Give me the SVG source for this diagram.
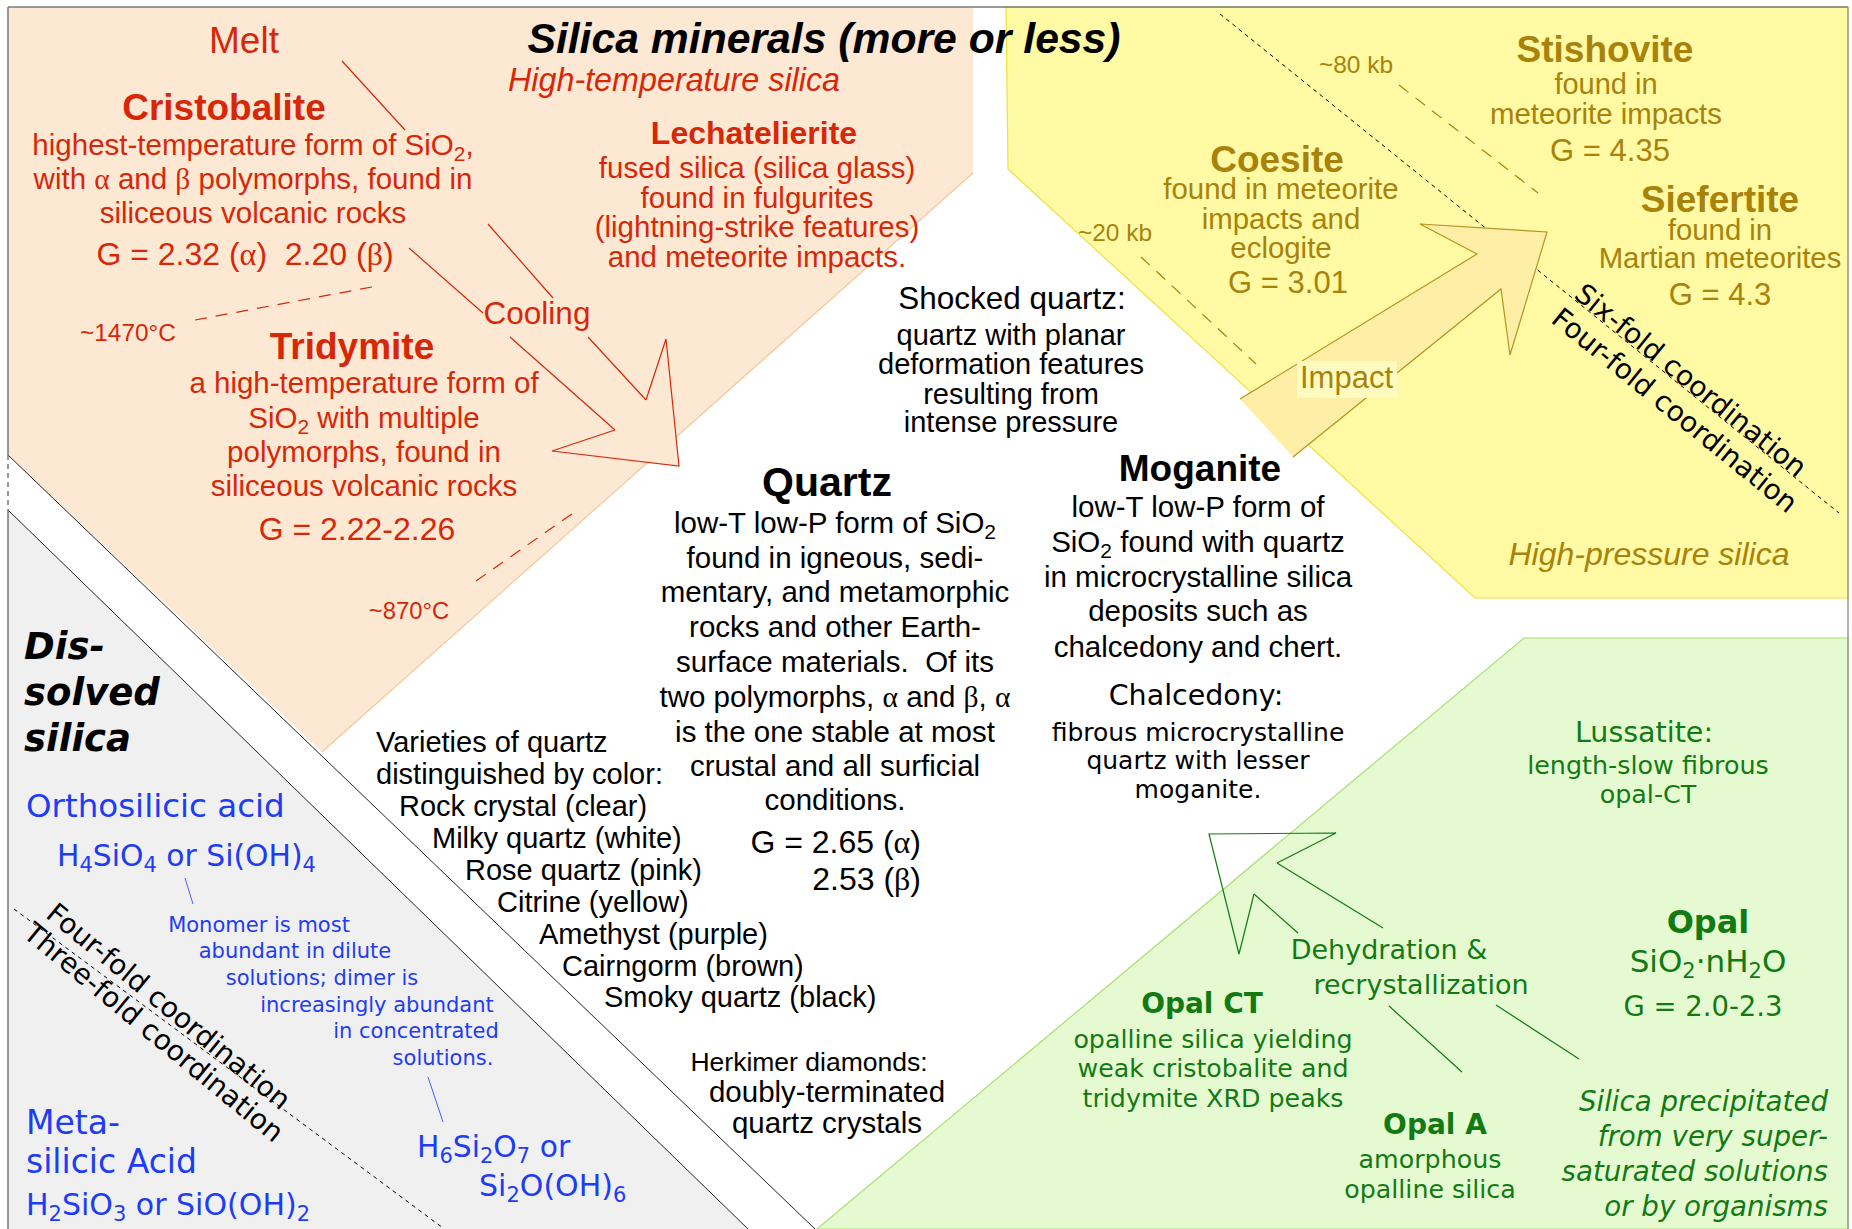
<svg xmlns="http://www.w3.org/2000/svg" width="1852" height="1229" viewBox="0 0 1852 1229">
<style>
text{font-family:"Liberation Sans",Arial,Helvetica,sans-serif}
.l{font-family:"DejaVu Sans","Liberation Sans",sans-serif}
.m{text-anchor:middle}
.e{text-anchor:end}
.bd{font-weight:bold}
.it{font-style:italic}
.sy{font-family:"Liberation Serif","Times New Roman",serif}
.red{fill:#D62808}
.gold{fill:#A8820A}
.blk{fill:#000}
.blu{fill:#1E3CF5}
.grn{fill:#127A12}
.rl{stroke:#D62808;stroke-width:1.2;fill:none}
.gl{stroke:#A8820A;stroke-width:1.2;fill:none}
.nl{stroke:#127A12;stroke-width:1.2;fill:none}
.bl{stroke:#1E3CF5;stroke-width:0.8;fill:none}
</style>
<rect x="0" y="0" width="1852" height="1229" fill="#fff"/>
<g id="regions">
<polygon points="8,7 973,7 973,173 322,752 8,455" fill="#FDE8D4"/>
<line x1="973" y1="173" x2="322" y2="752" stroke="#F7C79A" stroke-width="1.2"/>
<polygon points="1006,7 1008,169 1475,598 1848,598 1848,7" fill="#FFFAA3" stroke="#EEE23A" stroke-width="1.2"/>
<polygon points="817,1229 1524,638 1848,638 1848,1229" fill="#E6FAD2" stroke="#A8E070" stroke-width="1.2"/>
<polygon points="8,510 748,1229 8,1229" fill="#F0F0F0"/>
<line x1="8" y1="455" x2="815" y2="1229" stroke="#222" stroke-width="1"/>
<line x1="8" y1="510" x2="748" y2="1229" stroke="#222" stroke-width="1"/>
<line x1="8" y1="7" x2="1848" y2="7" stroke="#777" stroke-width="1.5"/>
<line x1="8" y1="7" x2="8" y2="455" stroke="#777" stroke-width="1.5"/>
<line x1="8" y1="455" x2="8" y2="510" stroke="#777" stroke-width="1.5" stroke-dasharray="5,4"/>
<line x1="8" y1="510" x2="8" y2="1229" stroke="#777" stroke-width="1.5"/>
<line x1="1848" y1="7" x2="1848" y2="1229" stroke="#999" stroke-width="1.5"/>
</g>
<g id="connectors">
<line class="rl" x1="342" y1="61" x2="405" y2="130"/>
<line class="rl" x1="488" y1="224" x2="553" y2="298"/>
<line class="rl" x1="588" y1="337" x2="646" y2="400"/>
<line class="rl" x1="409" y1="248" x2="483" y2="313"/>
<line class="rl" x1="510" y1="337" x2="615" y2="430"/>
<polygon points="615,430 552,451 679,466 666,339 646,400" fill="#FDE8D4" stroke="none"/>
<polyline class="rl" points="615,430 552,451 679,466 666,339 646,400"/>
<line class="rl" x1="195" y1="320" x2="372" y2="287" stroke-dasharray="12,9"/>
<line class="rl" x1="476" y1="581" x2="576" y2="511" stroke-dasharray="12,9"/>
<line class="gl" x1="1399" y1="85" x2="1538" y2="193" stroke-dasharray="12,9"/>
<line class="gl" x1="1141" y1="257" x2="1256" y2="364" stroke-dasharray="12,9"/>
<line x1="1220" y1="14" x2="1839" y2="513" stroke="#000" stroke-width="1" stroke-dasharray="4,4"/>
<line x1="14" y1="909" x2="443" y2="1228" stroke="#000" stroke-width="1" stroke-dasharray="4,4"/>
<polygon points="1240,399 1477,254 1420,224 1547,232 1510,355 1501,289 1293,457" fill="#FFEFA6" stroke="none"/>
<polyline points="1240,399 1477,254 1420,224 1547,232 1510,355 1501,289 1293,457" fill="none" stroke="#B8921E" stroke-width="1.2"/>
<rect x="1297" y="361" width="100" height="37" fill="#FFFBC0"/>
<polyline class="nl" points="1277,863 1336,833 1209,834 1239,954 1254,894"/>
<line class="nl" x1="1277" y1="863" x2="1383" y2="928"/>
<line class="nl" x1="1254" y1="894" x2="1298" y2="933"/>
<line class="nl" x1="1389" y1="1006" x2="1462" y2="1072"/>
<line class="nl" x1="1496" y1="1005" x2="1579" y2="1059"/>
<line class="bl" x1="185" y1="878" x2="193" y2="904"/>
<line class="bl" x1="428" y1="1077" x2="443" y2="1122"/>
</g>
<g id="title"><text class="blk m bd it" x="824" y="53" font-size="42.7">Silica minerals (more or less)</text></g>
<g id="high-temp-label"><text class="red m it" x="674" y="91" font-size="32.3">High-temperature silica</text></g>
<g id="melt"><text class="red m" x="244" y="53" font-size="37">Melt</text></g>
<g id="cristobalite">
<text class="red m bd" x="224" y="120" font-size="37">Cristobalite</text>
<text class="red m" x="253" y="155" font-size="29.5">highest-temperature form of SiO<tspan dy="6" font-size="21">2</tspan><tspan dy="-6">,</tspan></text>
<text class="red m" x="253" y="189" font-size="29.5">with <tspan class="sy">α</tspan> and <tspan class="sy">β</tspan> polymorphs, found in</text>
<text class="red m" x="253" y="223" font-size="29.5">siliceous volcanic rocks</text>
<text class="red m" x="245" y="265" font-size="32">G = 2.32 (<tspan class="sy">α</tspan>)&#160; 2.20 (<tspan class="sy">β</tspan>)</text>
</g>
<g id="t1470"><text class="red m" x="128" y="341" font-size="24.4">~1470°C</text></g>
<g id="tridymite">
<text class="red m bd" x="352" y="359" font-size="37">Tridymite</text>
<text class="red m" x="364" y="393" font-size="29.5">a high-temperature form of</text>
<text class="red m" x="364" y="428" font-size="29.5">SiO<tspan dy="6" font-size="21">2</tspan><tspan dy="-6"> with multiple</tspan></text>
<text class="red m" x="364" y="462" font-size="29.5">polymorphs, found in</text>
<text class="red m" x="364" y="496" font-size="29.5">siliceous volcanic rocks</text>
<text class="red m" x="357" y="540" font-size="32">G = 2.22-2.26</text>
</g>
<g id="t870"><text class="red m" x="409" y="619" font-size="23.8">~870°C</text></g>
<g id="cooling"><text class="red m" x="537" y="324" font-size="31.5">Cooling</text></g>
<g id="lechatelierite">
<text class="red m bd" x="754" y="144" font-size="32">Lechatelierite</text>
<text class="red m" x="757" y="178" font-size="29.5">fused silica (silica glass)</text>
<text class="red m" x="757" y="208" font-size="29.5">found in fulgurites</text>
<text class="red m" x="757" y="237" font-size="29.5">(lightning-strike features)</text>
<text class="red m" x="757" y="267" font-size="29.5">and meteorite impacts.</text>
</g>
<g id="stishovite">
<text class="gold m bd" x="1605" y="62" font-size="37">Stishovite</text>
<text class="gold m" x="1606" y="94" font-size="29">found in</text>
<text class="gold m" x="1606" y="124" font-size="29.4">meteorite impacts</text>
<text class="gold m" x="1610" y="161" font-size="31">G = 4.35</text>
</g>
<g id="coesite">
<text class="gold m bd" x="1277" y="172" font-size="37">Coesite</text>
<text class="gold m" x="1281" y="199" font-size="29.4">found in meteorite</text>
<text class="gold m" x="1281" y="229" font-size="29.4">impacts and</text>
<text class="gold m" x="1281" y="258" font-size="29.4">eclogite</text>
<text class="gold m" x="1288" y="293" font-size="31">G = 3.01</text>
</g>
<g id="siefertite">
<text class="gold m bd" x="1720" y="212" font-size="37">Siefertite</text>
<text class="gold m" x="1720" y="240" font-size="29.3">found in</text>
<text class="gold m" x="1720" y="268" font-size="29.3">Martian meteorites</text>
<text class="gold m" x="1720" y="305" font-size="31">G = 4.3</text>
</g>
<g id="kb80"><text class="gold m" x="1356" y="73" font-size="24.5">~80 kb</text></g>
<g id="kb20"><text class="gold m" x="1115" y="241" font-size="24.5">~20 kb</text></g>
<g id="impact"><text class="gold" x="1300" y="388" font-size="31">Impact</text></g>
<g id="coord-high">
<text class="l blk m" transform="translate(1691,380) rotate(39)" y="10" font-size="28">Six-fold coordination</text>
<text class="l blk m" transform="translate(1675,410) rotate(39)" y="10" font-size="28">Four-fold coordination</text>
</g>
<g id="high-pressure-label"><text class="gold m it" x="1649" y="565" font-size="32">High-pressure silica</text></g>
<g id="shocked">
<text class="blk m" x="1012" y="309" font-size="31.5">Shocked quartz:</text>
<text class="blk m" x="1011" y="345" font-size="29">quartz with planar</text>
<text class="blk m" x="1011" y="374" font-size="29">deformation features</text>
<text class="blk m" x="1011" y="404" font-size="29">resulting from</text>
<text class="blk m" x="1011" y="432" font-size="29">intense pressure</text>
</g>
<g id="quartz">
<text class="blk m bd" x="827" y="496" font-size="41">Quartz</text>
<text class="blk m" x="835" y="533" font-size="29.5">low-T low-P form of SiO<tspan dy="6" font-size="21">2</tspan></text>
<text class="blk m" x="835" y="568" font-size="29.5">found in igneous, sedi-</text>
<text class="blk m" x="835" y="602" font-size="29.5">mentary, and metamorphic</text>
<text class="blk m" x="835" y="637" font-size="29.5">rocks and other Earth-</text>
<text class="blk m" x="835" y="672" font-size="29.5">surface materials.&#160; Of its</text>
<text class="blk m" x="835" y="707" font-size="29.5">two polymorphs, <tspan class="sy">α</tspan> and <tspan class="sy">β</tspan>, <tspan class="sy">α</tspan></text>
<text class="blk m" x="835" y="742" font-size="29.5">is the one stable at most</text>
<text class="blk m" x="835" y="776" font-size="29.5">crustal and all surficial</text>
<text class="blk m" x="835" y="810" font-size="29.5">conditions.</text>
<text class="blk e" x="921" y="853" font-size="32">G = 2.65 (<tspan class="sy">α</tspan>)</text>
<text class="blk e" x="921" y="890" font-size="32">2.53 (<tspan class="sy">β</tspan>)</text>
</g>
<g id="moganite">
<text class="blk m bd" x="1200" y="481" font-size="37">Moganite</text>
<text class="blk m" x="1198" y="517" font-size="29.5">low-T low-P form of</text>
<text class="blk m" x="1198" y="552" font-size="29.5">SiO<tspan dy="6" font-size="21">2</tspan><tspan dy="-6"> found with quartz</tspan></text>
<text class="blk m" x="1198" y="587" font-size="29.5">in microcrystalline silica</text>
<text class="blk m" x="1198" y="621" font-size="29.5">deposits such as</text>
<text class="blk m" x="1198" y="657" font-size="29.5">chalcedony and chert.</text>
</g>
<g id="chalcedony">
<text class="l blk m" x="1196" y="705" font-size="28.5">Chalcedony:</text>
<text class="l blk m" x="1198" y="741" font-size="25">fibrous microcrystalline</text>
<text class="l blk m" x="1198" y="769" font-size="25">quartz with lesser</text>
<text class="l blk m" x="1198" y="798" font-size="25">moganite.</text>
</g>
<g id="varieties">
<text class="blk" x="376" y="752" font-size="29">Varieties of quartz</text>
<text class="blk" x="376" y="784" font-size="29">distinguished by color:</text>
<text class="blk" x="399" y="816" font-size="29">Rock crystal (clear)</text>
<text class="blk" x="432" y="848" font-size="29">Milky quartz (white)</text>
<text class="blk" x="465" y="880" font-size="29">Rose quartz (pink)</text>
<text class="blk" x="497" y="912" font-size="29">Citrine (yellow)</text>
<text class="blk" x="539" y="944" font-size="29">Amethyst (purple)</text>
<text class="blk" x="562" y="976" font-size="29">Cairngorm (brown)</text>
<text class="blk" x="604" y="1007" font-size="29">Smoky quartz (black)</text>
</g>
<g id="herkimer">
<text class="blk m" x="809" y="1071" font-size="26.5">Herkimer diamonds:</text>
<text class="blk m" x="827" y="1102" font-size="29.5">doubly-terminated</text>
<text class="blk m" x="827" y="1133" font-size="29.5">quartz crystals</text>
</g>
<g id="dissolved">
<text class="l blk bd it" x="24" y="659" font-size="37">Dis-</text>
<text class="l blk bd it" x="24" y="705" font-size="37">solved</text>
<text class="l blk bd it" x="24" y="751" font-size="37">silica</text>
</g>
<g id="orthosilicic">
<text class="l blu" x="26" y="817" font-size="32.5">Orthosilicic acid</text>
<text class="l blu" x="57" y="866" font-size="29.8">H<tspan dy="6" font-size="21">4</tspan><tspan dy="-6">SiO</tspan><tspan dy="6" font-size="21">4</tspan><tspan dy="-6"> or Si(OH)</tspan><tspan dy="6" font-size="21">4</tspan></text>
</g>
<g id="monomer-note">
<text class="l blu m" x="259" y="932" font-size="21">Monomer is most</text>
<text class="l blu m" x="295" y="958" font-size="21">abundant in dilute</text>
<text class="l blu m" x="322" y="985" font-size="21">solutions; dimer is</text>
<text class="l blu m" x="377" y="1012" font-size="21">increasingly abundant</text>
<text class="l blu m" x="416" y="1038" font-size="21">in concentrated</text>
<text class="l blu m" x="443" y="1065" font-size="21">solutions.</text>
</g>
<g id="dimer">
<text class="l blu" x="417" y="1157" font-size="29.8">H<tspan dy="6" font-size="21">6</tspan><tspan dy="-6">Si</tspan><tspan dy="6" font-size="21">2</tspan><tspan dy="-6">O</tspan><tspan dy="6" font-size="21">7</tspan><tspan dy="-6"> or</tspan></text>
<text class="l blu" x="479" y="1196" font-size="30">Si<tspan dy="6" font-size="21">2</tspan><tspan dy="-6">O(OH)</tspan><tspan dy="6" font-size="21">6</tspan></text>
</g>
<g id="metasilicic">
<text class="l blu" x="26" y="1134" font-size="33">Meta-</text>
<text class="l blu" x="26" y="1173" font-size="33">silicic Acid</text>
<text class="l blu" x="26" y="1215" font-size="30">H<tspan dy="6" font-size="21">2</tspan><tspan dy="-6">SiO</tspan><tspan dy="6" font-size="21">3</tspan><tspan dy="-6"> or SiO(OH)</tspan><tspan dy="6" font-size="21">2</tspan></text>
</g>
<g id="coord-low">
<text class="l blk m" transform="translate(169,1006) rotate(39.5)" y="10" font-size="28">Four-fold coordination</text>
<text class="l blk m" transform="translate(154,1032) rotate(39.5)" y="10" font-size="28">Three-fold coordination</text>
</g>
<g id="lussatite">
<text class="l grn m" x="1644" y="742" font-size="28.5">Lussatite:</text>
<text class="l grn m" x="1648" y="774" font-size="25.4">length-slow fibrous</text>
<text class="l grn m" x="1648" y="803" font-size="25.4">opal-CT</text>
</g>
<g id="dehydration">
<text class="l grn m" x="1389" y="959" font-size="27">Dehydration &amp;</text>
<text class="l grn m" x="1421" y="994" font-size="27">recrystallization</text>
</g>
<g id="opal-ct">
<text class="l grn m bd" x="1202" y="1013" font-size="28">Opal CT</text>
<text class="l grn m" x="1213" y="1048" font-size="25.3">opalline silica yielding</text>
<text class="l grn m" x="1213" y="1077" font-size="25.3">weak cristobalite and</text>
<text class="l grn m" x="1213" y="1107" font-size="25.3">tridymite XRD peaks</text>
</g>
<g id="opal-a">
<text class="l grn m bd" x="1435" y="1134" font-size="28">Opal A</text>
<text class="l grn m" x="1430" y="1168" font-size="25.3">amorphous</text>
<text class="l grn m" x="1430" y="1198" font-size="25.3">opalline silica</text>
</g>
<g id="opal">
<text class="l grn m bd" x="1708" y="933" font-size="32">Opal</text>
<text class="l grn m" x="1708" y="972" font-size="31">SiO<tspan dy="6" font-size="21">2</tspan><tspan dy="-6">·nH</tspan><tspan dy="6" font-size="21">2</tspan><tspan dy="-6">O</tspan></text>
<text class="l grn m" x="1703" y="1016" font-size="27.5">G = 2.0-2.3</text>
</g>
<g id="precipitated">
<text class="l grn e it" x="1828" y="1111" font-size="27.7">Silica precipitated</text>
<text class="l grn e it" x="1828" y="1146" font-size="27.7">from very super-</text>
<text class="l grn e it" x="1828" y="1181" font-size="27.7">saturated solutions</text>
<text class="l grn e it" x="1828" y="1216" font-size="27.7">or by organisms</text>
</g>
</svg>
